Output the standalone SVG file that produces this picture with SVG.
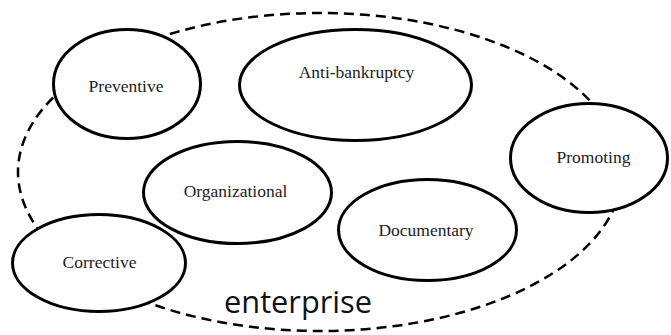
<svg xmlns="http://www.w3.org/2000/svg" width="671" height="335" viewBox="0 0 671 335">
<style>
.bg{fill:#ffffff}
.boundary{fill:none;stroke:#000;stroke-width:2.5;stroke-dasharray:10 6}
.node ellipse{fill:#ffffff;stroke:#000;stroke-width:3}
.node text{font-family:"Liberation Serif","Times New Roman",serif;font-size:17.5px;fill:#222;text-anchor:middle}
.label{font-family:"Open Sans","Liberation Sans",sans-serif;font-size:31px;fill:#111}
</style>
<rect class="bg" x="0" y="0" width="671" height="335"/>
<g id="enterprise">
<ellipse class="boundary" cx="320" cy="172" rx="302" ry="159"/>
<text class="label" x="224" y="313" textLength="148" lengthAdjust="spacingAndGlyphs">enterprise</text>
</g>
<g id="connectors"></g>
<g id="preventive" class="node">
<ellipse cx="127" cy="84" rx="73.5" ry="54.5"/>
<text x="126" y="92">Preventive</text>
</g>
<g id="anti-bankruptcy" class="node">
<ellipse cx="355.5" cy="85" rx="116" ry="55.5"/>
<text x="356.5" y="78">Anti-bankruptcy</text>
</g>
<g id="promoting" class="node">
<ellipse cx="589" cy="158" rx="78.5" ry="54.5"/>
<text x="593.5" y="163">Promoting</text>
</g>
<g id="organizational" class="node">
<ellipse cx="237.5" cy="192.5" rx="94" ry="51"/>
<text x="235.5" y="197">Organizational</text>
</g>
<g id="documentary" class="node">
<ellipse cx="427.5" cy="230" rx="89" ry="50.5"/>
<text x="426" y="236">Documentary</text>
</g>
<g id="corrective" class="node">
<ellipse cx="99" cy="263" rx="86.5" ry="48.5"/>
<text x="99.5" y="268">Corrective</text>
</g>
</svg>
